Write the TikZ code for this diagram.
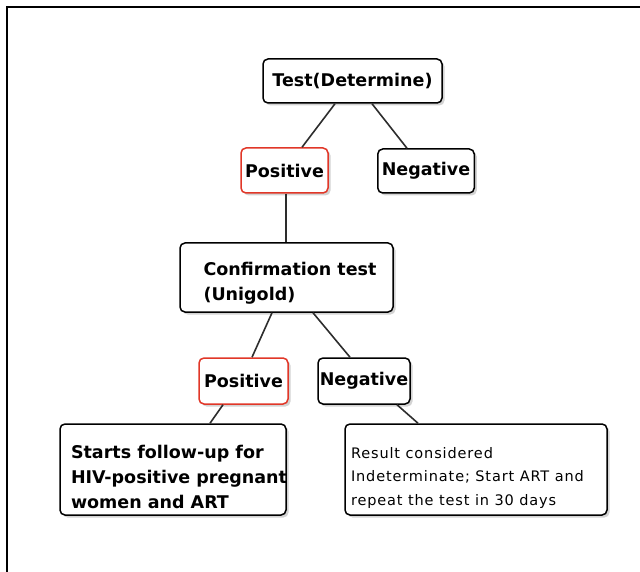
\documentclass[tikz,border=0pt]{standalone}
\usepackage{fontspec}
\setmainfont{DejaVu Sans}
\usepackage{xcolor}
\definecolor{rojo}{RGB}{225, 55, 40}
\definecolor{grisOscuro}{RGB}{45, 45, 45}
\usepackage{tikz}
\usetikzlibrary{shadows,calc,positioning}
\tikzstyle{edge}  =[line width=1.6pt, grisOscuro]
\tikzstyle{caja}  =[draw, rounded corners=5pt, line width=1.5pt,
                    fill=white, inner sep=4pt,
                    drop shadow={opacity=0.35, shadow xshift=2.5pt, shadow yshift=-2.5pt},
                    font=\fontsize{17.5}{25}\selectfont\bfseries]
\tikzstyle{rcaja} =[caja, draw=rojo]
\tikzstyle{tcaja} =[caja, inner sep=0pt]

\begin{document}
\begin{tikzpicture}[x=1pt,y=-1pt]
    \useasboundingbox (0,0) rectangle (640,572);
    \draw [line width=1.5pt] (7,572) -- (7,7) -- (640,7);

        \draw (352.5,81) node(test)[caja,minimum width=179pt,minimum height=44pt]{Test(Determine)};
        \draw (284.5,170.5) node(pos1)[rcaja,minimum width=87pt,minimum height=45pt]{Positive};
        \draw (426,171) node(neg1)[caja,minimum width=96pt,minimum height=44pt]{Negative};
        \draw (286.5,277.5) node(conf)[caja,minimum width=213pt,minimum height=69pt,
                align=left]{\rule{0pt}{25pt}\hspace*{7pt}Confirmation test\\\hspace*{7pt}(Unigold)};
        \draw (243.5,381) node(pos2)[rcaja,minimum width=89pt,minimum height=46pt]{Positive};
        \draw (364,381) node(neg2)[caja,minimum width=92pt,minimum height=46pt,
                inner xsep=1pt]{Negative};
        \draw (173,469.5) node(starts)[tcaja]
                {\parbox[c][91pt][t]{226pt}{\vspace*{21pt}
                 \hspace*{11pt}\mbox{Starts follow-up for}\\
                 \hspace*{11pt}\mbox{HIV-positive pregnant}\\
                 \hspace*{11pt}\mbox{women and ART}}};
        \draw (476,469.5) node(result)[tcaja,
                font=\fontsize{14.5}{23.5}\selectfont\addfontfeature{LetterSpace=6}]
                {\parbox[c][91pt][t]{262pt}{\vspace*{23pt}
                 \hspace*{6pt}\mbox{Result considered}\\
                 \hspace*{6pt}\mbox{Indeterminate; Start ART and}\\
                 \hspace*{6pt}\mbox{repeat the test in 30 days}}};

        \draw [edge] ([xshift=-17.5pt]test.south) to ([xshift=17.5pt]pos1.north);
        \draw [edge] ([xshift=19.5pt]test.south) to ([xshift=-19pt]neg1.north);
        \draw [edge] ([xshift=1.5pt]pos1.south) to ([xshift=-0.5pt]conf.north);
        \draw [edge] ([xshift=-14.5pt]conf.south) to ([xshift=8.5pt]pos2.north);
        \draw [edge] ([xshift=26.5pt]conf.south) to ([xshift=-14pt]neg2.north);
        \draw [edge] ([xshift=-20.5pt]pos2.south) to ([xshift=37pt]starts.north);
        \draw [edge] ([xshift=33pt]neg2.south) to ([xshift=-58pt]result.north);

\end{tikzpicture}
\end{document}
